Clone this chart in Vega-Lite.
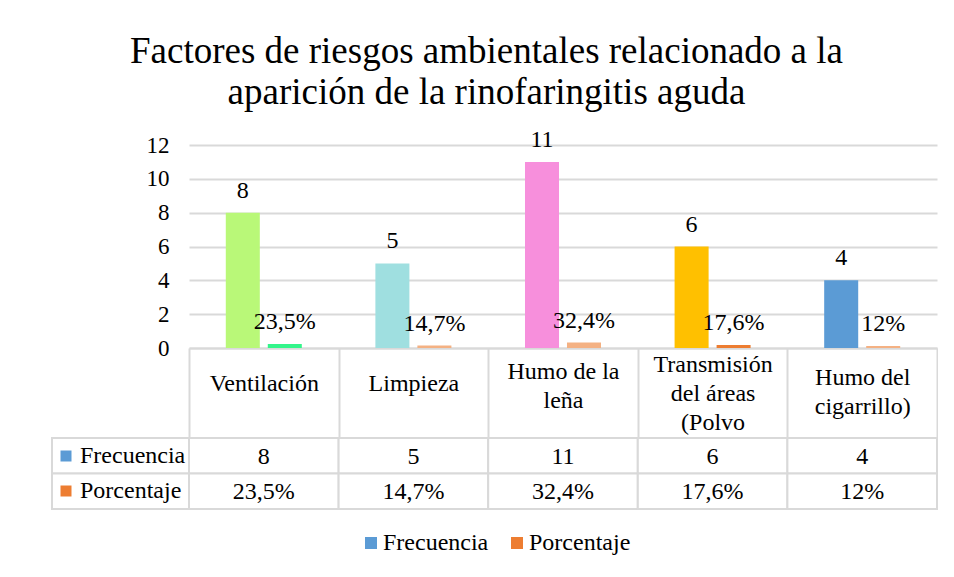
{
  "$schema": "https://vega.github.io/schema/vega-lite/v6.json",
  "background": "white",
  "padding": {"left": 51, "top": 32, "right": 0, "bottom": 0},
  "autosize": {"type": "pad"},
  "config": {
    "font": "Liberation Serif",
    "view": {"stroke": null},
    "text": {"color": "black"},
    "axis": {"labelColor": "black", "labelFont": "Liberation Serif"},
    "legend": {"labelColor": "black", "labelFont": "Liberation Serif", "layout": {"bottom": {"anchor": "middle"}}}
  },
  "title": {
    "text": ["Factores de riesgos ambientales relacionado a la", "aparición de la rinofaringitis aguda"],
    "fontSize": 37,
    "fontWeight": "normal",
    "lineHeight": 41,
    "color": "black",
    "anchor": "middle",
    "dx": -8,
    "offset": 16
  },
  "datasets": {
    "d": [
      {"category": "Ventilación", "serie": "Frecuencia", "value": 8, "label": "8"},
      {"category": "Limpieza", "serie": "Frecuencia", "value": 5, "label": "5"},
      {"category": "Humo de la leña", "serie": "Frecuencia", "value": 11, "label": "11"},
      {"category": "Transmisión del áreas (Polvo", "serie": "Frecuencia", "value": 6, "label": "6"},
      {"category": "Humo del cigarrillo)", "serie": "Frecuencia", "value": 4, "label": "4"},
      {"category": "Ventilación", "serie": "Porcentaje", "value": 0.235, "label": "23,5%"},
      {"category": "Limpieza", "serie": "Porcentaje", "value": 0.147, "label": "14,7%"},
      {"category": "Humo de la leña", "serie": "Porcentaje", "value": 0.324, "label": "32,4%"},
      {"category": "Transmisión del áreas (Polvo", "serie": "Porcentaje", "value": 0.176, "label": "17,6%"},
      {"category": "Humo del cigarrillo)", "serie": "Porcentaje", "value": 0.12, "label": "12%"}
    ]
  },
  "columns": 2,
  "spacing": {"row": 90, "column": 0},
  "bounds": "flush",
  "align": "each",
  "resolve": {"scale": {"fill": "independent", "x": "independent", "y": "independent"}},
  "concat": [
    {
      "width": 137,
      "height": 203,
      "data": {"values": []},
      "mark": {"type": "text"}
    },
    {
      "width": 748,
      "height": 203,
      "data": {"name": "d"},
      "encoding": {
        "x": {
          "field": "category",
          "type": "nominal",
          "sort": null,
          "scale": {"paddingInner": 0, "paddingOuter": 0},
          "axis": {
            "title": null,
            "orient": "bottom",
            "domain": true,
            "domainColor": "#d9d9d9",
            "domainWidth": 2,
            "ticks": true,
            "tickBand": "extent",
            "tickSize": 90,
            "tickColor": "#d9d9d9",
            "tickWidth": 2,
            "labelPadding": {
              "condition": [
                {"test": "datum.value == 'Humo de la leña'", "value": -67},
                {"test": "datum.value == 'Transmisión del áreas (Polvo'", "value": -74},
                {"test": "datum.value == 'Humo del cigarrillo)'", "value": -61}
              ],
              "value": -55
            },
            "labelBaseline": "middle",
            "labelAngle": 0,
            "labelFontSize": 24,
            "labelLineHeight": 29,
            "labelOverlap": false,
            "labelExpr": "datum.label == 'Humo de la leña' ? ['Humo de la', 'leña'] : datum.label == 'Transmisión del áreas (Polvo' ? ['Transmisión', 'del áreas', '(Polvo'] : datum.label == 'Humo del cigarrillo)' ? ['Humo del', 'cigarrillo)'] : datum.label"
          }
        },
        "xOffset": {
          "field": "serie",
          "type": "nominal",
          "scale": {"domain": ["Frecuencia", "Porcentaje"], "paddingInner": 0.19, "paddingOuter": 0.876}
        },
        "y": {
          "field": "value",
          "type": "quantitative",
          "scale": {"domain": [0, 12], "nice": false},
          "axis": {
            "title": null,
            "values": [0, 2, 4, 6, 8, 10, 12],
            "domain": false,
            "ticks": false,
            "grid": true,
            "gridColor": "#d9d9d9",
            "gridWidth": 2,
            "labelFontSize": 23,
            "labelPadding": 20
          }
        }
      },
      "layer": [
        {
          "transform": [{"filter": "datum.serie == 'Frecuencia'"}],
          "mark": {"type": "bar"},
          "encoding": {
            "fill": {
              "field": "category",
              "type": "nominal",
              "scale": {
                "domain": ["Ventilación", "Limpieza", "Humo de la leña", "Transmisión del áreas (Polvo", "Humo del cigarrillo)"],
                "range": ["#b9f878", "#9fdfe0", "#f78fdc", "#ffc000", "#5b9bd5"]
              },
              "legend": null
            }
          }
        },
        {
          "transform": [{"filter": "datum.serie == 'Porcentaje'"}],
          "mark": {"type": "bar"},
          "encoding": {
            "fill": {
              "field": "category",
              "type": "nominal",
              "scale": {
                "domain": ["Ventilación", "Limpieza", "Humo de la leña", "Transmisión del áreas (Polvo", "Humo del cigarrillo)"],
                "range": ["#33f58a", "#f4b183", "#f4b183", "#ed7d31", "#f4b183"]
              },
              "legend": null
            }
          }
        },
        {
          "mark": {"type": "text", "baseline": "alphabetic", "dy": -15, "fontSize": 24},
          "encoding": {"text": {"field": "label"}}
        }
      ],
      "resolve": {"scale": {"fill": "independent"}}
    },
    {
      "width": 137,
      "height": 71,
      "data": {"name": "d"},
      "transform": [{"filter": "datum.category == 'Ventilación'"}],
      "encoding": {
        "y": {
          "field": "serie",
          "type": "nominal",
          "scale": {"domain": ["Frecuencia", "Porcentaje"], "paddingInner": 0, "paddingOuter": 0},
          "axis": null
        }
      },
      "layer": [
        {"mark": {"type": "rect", "fill": "white", "stroke": "#d9d9d9", "strokeWidth": 2}},
        {
          "mark": {"type": "square", "opacity": 0},
          "encoding": {
            "fill": {
              "field": "serie",
              "type": "nominal",
              "scale": {"domain": ["Frecuencia", "Porcentaje"], "range": ["#5b9bd5", "#ed7d31"]},
              "legend": {
                "orient": "none",
                "legendX": 2,
                "legendY": 6,
                "direction": "vertical",
                "title": null,
                "symbolType": "square",
                "symbolSize": 121,
                "symbolOpacity": 1,
                "symbolStrokeWidth": 0,
                "labelFontSize": 24,
                "labelOffset": 2,
                "rowPadding": 11,
                "padding": 0
              }
            }
          }
        }
      ]
    },
    {
      "width": 748,
      "height": 71,
      "data": {"name": "d"},
      "encoding": {
        "x": {
          "field": "category",
          "type": "nominal",
          "sort": null,
          "scale": {"paddingInner": 0, "paddingOuter": 0},
          "axis": null
        },
        "y": {
          "field": "serie",
          "type": "nominal",
          "scale": {"domain": ["Frecuencia", "Porcentaje"], "paddingInner": 0, "paddingOuter": 0},
          "axis": null
        }
      },
      "layer": [
        {"mark": {"type": "rect", "fill": "white", "stroke": "#d9d9d9", "strokeWidth": 2}},
        {
          "mark": {"type": "text", "fontSize": 24, "baseline": "middle", "dy": 1},
          "encoding": {"text": {"field": "label"}}
        },
        {
          "mark": {"type": "square", "opacity": 0},
          "encoding": {
            "color": {
              "field": "serie",
              "type": "nominal",
              "scale": {"domain": ["Frecuencia", "Porcentaje"], "range": ["#5b9bd5", "#ed7d31"]},
              "legend": {
                "orient": "bottom",
                "direction": "horizontal",
                "title": null,
                "symbolType": "square",
                "symbolSize": 144,
                "symbolOpacity": 1,
                "symbolStrokeWidth": 0,
                "labelFontSize": 24,
                "labelOffset": 0,
                "columnPadding": 16,
                "offset": 21,
                "padding": 0
              }
            }
          }
        }
      ]
    }
  ]
}
